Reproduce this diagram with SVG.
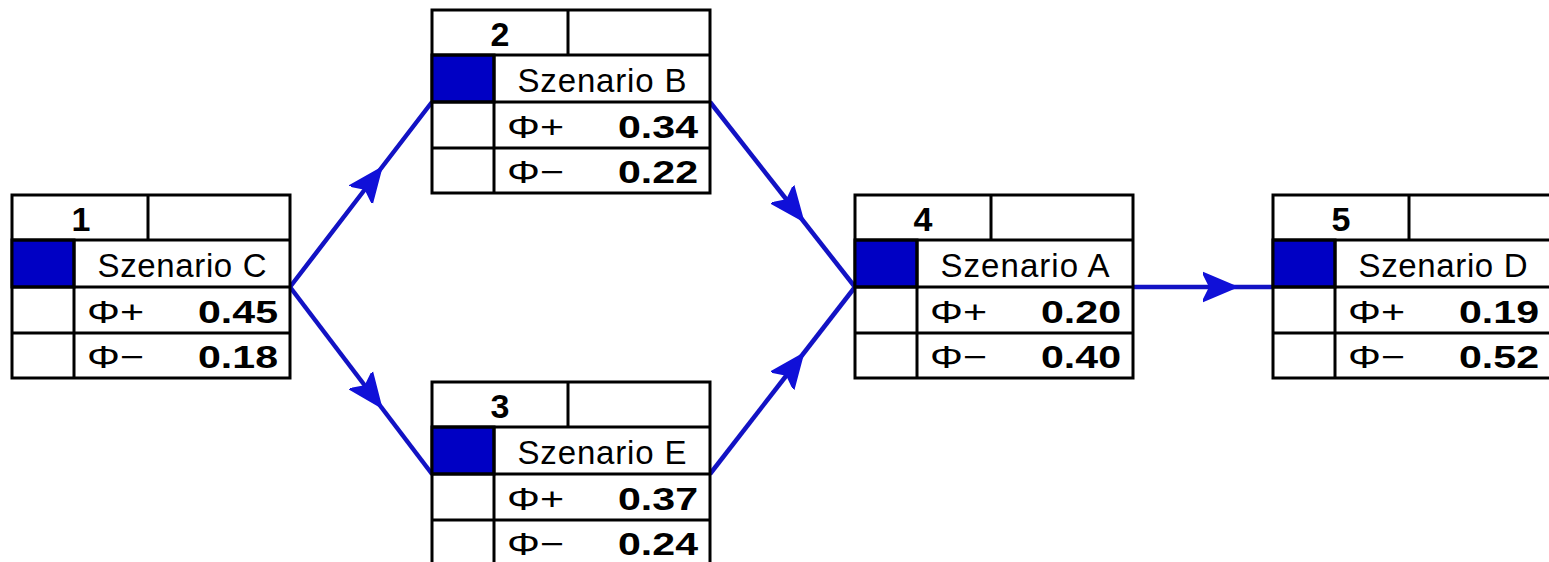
<svg xmlns="http://www.w3.org/2000/svg" width="1549" height="562" viewBox="0 0 1549 562">
<style>
.cell{fill:#fff;stroke:#000;stroke-width:3}
.ln{stroke:#000;stroke-width:3;fill:none}
.blue{fill:#0000c4;stroke:#000;stroke-width:3}
.num{font-family:"Liberation Sans",Arial,sans-serif;font-weight:bold;font-size:34px;fill:#000;text-anchor:middle}
.name{font-family:"Liberation Sans",Arial,sans-serif;font-size:33px;fill:#000;text-anchor:middle}
.phi{font-family:"Liberation Sans",Arial,sans-serif;font-size:32px;fill:#000}
.val{font-family:"Liberation Sans",Arial,sans-serif;font-weight:bold;font-size:31px;fill:#000;text-anchor:end}
.conn{stroke:#1212c4;stroke-width:4.5;fill:none;marker-mid:url(#ah)}
</style>
<defs>
<marker id="ah" markerUnits="userSpaceOnUse" markerWidth="44" markerHeight="38" viewBox="0 -19 44 38" refX="0" refY="0" orient="auto">
<path d="M-2,-16 L36,0 L-2,16 L6,0 z" fill="#1010d8"/>
</marker>
<g id="tpl">
<rect class="cell" x="0" y="0" width="278" height="183"/>
<rect class="blue" x="0" y="45" width="62" height="47"/>
<path class="ln" d="M0,45 H278 M0,92 H278 M0,138 H278 M136,0 V45 M62,45 V183"/>
</g>
</defs>
<rect width="1549" height="562" fill="#fff"/>
<g id="connectors">
<path class="conn" d="M290,287 L361,194.5 L432,102"/>
<path class="conn" d="M290,287 L361,380.5 L432,474"/>
<path class="conn" d="M710,102 L782.5,194.5 L855,287"/>
<path class="conn" d="M710,474 L782.5,380.5 L855,287"/>
<path class="conn" d="M1133,287 L1203,287 L1273,287"/>
</g>
<g id="node1" transform="translate(12,195)">
<use href="#tpl"/>
<text class="num" x="69" y="36">1</text>
<text class="name" x="170" y="82" textLength="169" lengthAdjust="spacing">Szenario C</text>
<text class="phi" x="75" y="128" textLength="57" lengthAdjust="spacingAndGlyphs">Φ+</text>
<text class="val" x="266" y="128" textLength="80" lengthAdjust="spacingAndGlyphs">0.45</text>
<text class="phi" x="75" y="173" textLength="57" lengthAdjust="spacingAndGlyphs">Φ−</text>
<text class="val" x="266" y="173" textLength="80" lengthAdjust="spacingAndGlyphs">0.18</text>
</g>
<g id="node2" transform="translate(432,10)">
<use href="#tpl"/>
<text class="num" x="68" y="36">2</text>
<text class="name" x="170" y="82" textLength="169" lengthAdjust="spacing">Szenario B</text>
<text class="phi" x="75" y="128" textLength="57" lengthAdjust="spacingAndGlyphs">Φ+</text>
<text class="val" x="266" y="128" textLength="80" lengthAdjust="spacingAndGlyphs">0.34</text>
<text class="phi" x="75" y="173" textLength="57" lengthAdjust="spacingAndGlyphs">Φ−</text>
<text class="val" x="266" y="173" textLength="80" lengthAdjust="spacingAndGlyphs">0.22</text>
</g>
<g id="node3" transform="translate(432,382)">
<use href="#tpl"/>
<text class="num" x="68" y="36">3</text>
<text class="name" x="170" y="82" textLength="169" lengthAdjust="spacing">Szenario E</text>
<text class="phi" x="75" y="128" textLength="57" lengthAdjust="spacingAndGlyphs">Φ+</text>
<text class="val" x="266" y="128" textLength="80" lengthAdjust="spacingAndGlyphs">0.37</text>
<text class="phi" x="75" y="173" textLength="57" lengthAdjust="spacingAndGlyphs">Φ−</text>
<text class="val" x="266" y="173" textLength="80" lengthAdjust="spacingAndGlyphs">0.24</text>
</g>
<g id="node4" transform="translate(855,195)">
<use href="#tpl"/>
<text class="num" x="68" y="36">4</text>
<text class="name" x="170" y="82" textLength="169" lengthAdjust="spacing">Szenario A</text>
<text class="phi" x="75" y="128" textLength="57" lengthAdjust="spacingAndGlyphs">Φ+</text>
<text class="val" x="266" y="128" textLength="80" lengthAdjust="spacingAndGlyphs">0.20</text>
<text class="phi" x="75" y="173" textLength="57" lengthAdjust="spacingAndGlyphs">Φ−</text>
<text class="val" x="266" y="173" textLength="80" lengthAdjust="spacingAndGlyphs">0.40</text>
</g>
<g id="node5" transform="translate(1273,195)">
<use href="#tpl"/>
<text class="num" x="68" y="36">5</text>
<text class="name" x="170" y="82" textLength="169" lengthAdjust="spacing">Szenario D</text>
<text class="phi" x="75" y="128" textLength="57" lengthAdjust="spacingAndGlyphs">Φ+</text>
<text class="val" x="266" y="128" textLength="80" lengthAdjust="spacingAndGlyphs">0.19</text>
<text class="phi" x="75" y="173" textLength="57" lengthAdjust="spacingAndGlyphs">Φ−</text>
<text class="val" x="266" y="173" textLength="80" lengthAdjust="spacingAndGlyphs">0.52</text>
</g>
</svg>
